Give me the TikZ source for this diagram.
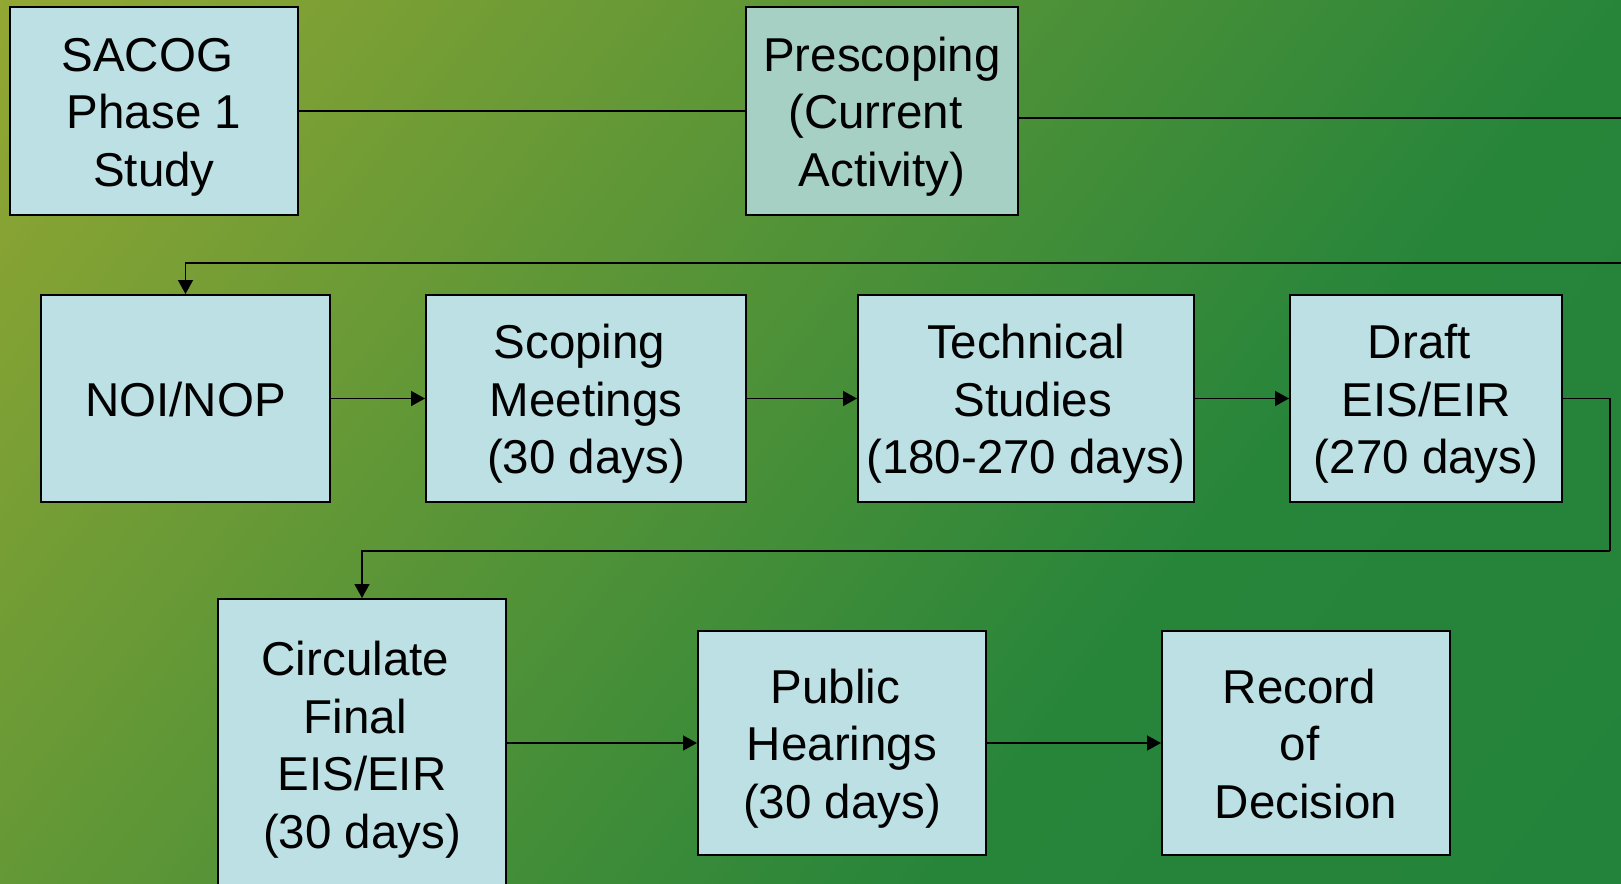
\documentclass[tikz,border=0pt]{standalone}
\usepackage{fontspec}
\setmainfont{Liberation Sans}
\usetikzlibrary{arrows.meta}
\definecolor{bgA}{HTML}{93A733}
\definecolor{bgC}{HTML}{27853A}
\definecolor{bgD}{HTML}{23833A}
\definecolor{boxfill}{HTML}{BCE0E4}
\definecolor{prefill}{HTML}{A7D0C4}
\newcommand\lstrut{\rule[-11pt]{0pt}{57.5pt}}
\newcommand\tsp{\kern 0.278em}
\tikzset{
  stepbox/.style={draw=black, line width=2pt, fill=boxfill, inner sep=0pt, align=center,
    font=\fontsize{47.5}{57.5}\selectfont},
  conn/.style={draw=black, line width=1.6pt},
  arr/.style={conn, -{Triangle[length=14pt,width=15pt]}}
}
\begin{document}
\begin{tikzpicture}[x=1pt,y=-1pt]
\useasboundingbox (0,0) rectangle (1621,883);
\clip (0,0) rectangle (1621,883);
\begin{scope}[transform canvas={rotate=-38.5}]
  \shade[left color=bgA, right color=bgC] (0pt,-720pt) rectangle (1270pt,1040pt);
  \shade[left color=bgC, right color=bgD] (1269pt,-720pt) rectangle (1860pt,1040pt);
\end{scope}
% row 1
\node[stepbox, minimum width=288pt, minimum height=208pt] (sacog) at (154,111)
  {\lstrut SACOG\tsp\\\lstrut Phase 1\\\lstrut Study};
\node[stepbox, fill=prefill, minimum width=272pt, minimum height=208pt] (pre) at (882,111)
  {\lstrut Prescoping\\\lstrut (Current\tsp\\\lstrut Activity)};
% row 2
\node[stepbox, minimum width=289pt, minimum height=207pt] (noi) at (185.5,398.5)
  {\lstrut NOI/NOP};
\node[stepbox, minimum width=320pt, minimum height=207pt] (scop) at (586,398.5)
  {\lstrut Scoping\tsp\\\lstrut Meetings\\\lstrut (30 days)};
\node[stepbox, minimum width=336pt, minimum height=207pt] (tech) at (1026,398.5)
  {\lstrut Technical\\\lstrut\tsp Studies\\\lstrut (180-270 days)};
\node[stepbox, minimum width=272pt, minimum height=207pt] (draft) at (1426,398.5)
  {\lstrut Draft\tsp\\\lstrut EIS/EIR\\\lstrut (270 days)};
% row 3
\node[stepbox, minimum width=288pt, minimum height=290pt] (circ) at (362,744)
  {\lstrut Circulate\tsp\\\lstrut Final\tsp\\\lstrut EIS/EIR\\\lstrut (30 days)};
\node[stepbox, minimum width=288pt, minimum height=224pt] (pub) at (842,743)
  {\lstrut Public\tsp\\\lstrut Hearings\\\lstrut (30 days)};
\node[stepbox, minimum width=288pt, minimum height=224pt] (rec) at (1306,743)
  {\lstrut Record\tsp\\\lstrut of\tsp\\\lstrut Decision};
% connectors
\coordinate (e1) at (1621,118);
\coordinate (e2) at (1621,263);
\coordinate (r1) at (1610,551);
\draw[conn] (sacog.east) -- (pre.west);
\draw[conn] (pre.east |- e1) -- (e1);
\draw[arr] (e2) -| (noi.north);
\draw[arr] (noi) -- (scop);
\draw[arr] (scop) -- (tech);
\draw[arr] (tech) -- (draft);
\draw[conn] (draft.east) -| (r1);
\draw[arr] (r1) -| (circ.north);
\draw[arr] (circ.east |- pub.west) -- (pub.west);
\draw[arr] (pub) -- (rec);
\end{tikzpicture}
\end{document}
